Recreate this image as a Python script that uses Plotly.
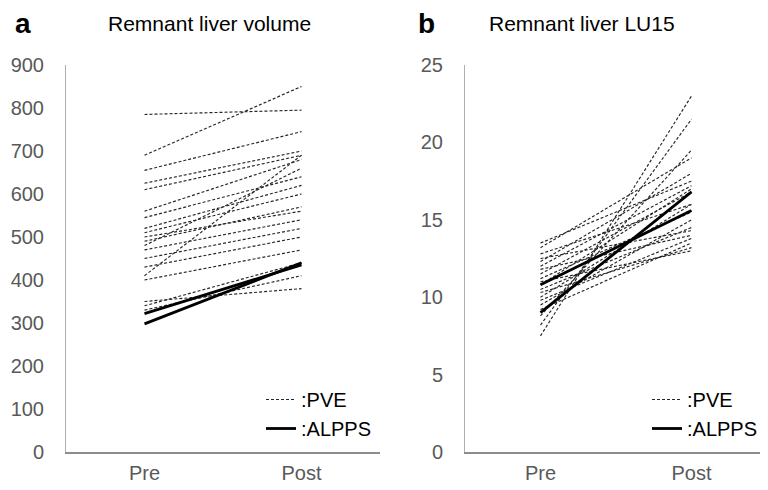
import plotly.graph_objects as go

# ---------------- data ----------------
categories = ["Pre", "Post"]

vol_pve_pre = [785, 690, 655, 625, 610, 560, 545, 520, 510, 500, 490, 470, 450, 430, 410, 400, 350, 340, 330, 480]
vol_pve_post = [795, 850, 745, 700, 690, 680, 640, 620, 600, 560, 570, 540, 520, 500, 690, 470, 380, 440, 410, 660]
vol_alpps_pre = [322, 298]
vol_alpps_post = [435, 440]

lu_pve_pre = [13.5, 13.2, 12.8, 12.3, 12.0, 11.8, 11.5, 11.2, 11.0, 10.8, 10.5, 10.3, 10.0, 9.8, 9.5, 9.2, 8.8, 8.2, 7.5, 12.5]
lu_pve_post = [17.5, 19.0, 16.0, 18.0, 17.2, 14.0, 16.8, 15.5, 13.0, 17.0, 14.5, 13.2, 16.0, 13.8, 15.0, 13.5, 19.5, 21.5, 23.0, 14.3]
lu_alpps_pre = [10.8, 9.0]
lu_alpps_post = [15.6, 16.8]

vol_ticks = [0, 100, 200, 300, 400, 500, 600, 700, 800, 900]
lu_ticks = [0, 5, 10, 15, 20, 25]

titles = ["Remnant liver volume", "Remnant liver LU15"]
panel_letters = ["a", "b"]

# ---------------- figure ----------------
# the page body has an 8px margin: the figure is drawn from (8, 8)
OFF = 8
W, H = 768 - OFF, 490 - OFF
FONT = "Liberation Sans, Arial, sans-serif"
GREY = "#595959"


def fx(px):
    return (px - OFF) / W


def fy(py):
    return 1 - (py - OFF) / H


fig = go.Figure()

pve_line = dict(color="#262626", width=1.15, dash="3px,2px")
alpps_line = dict(color="black", width=2.8)


def add_panel(pre_p, post_p, pre_a, post_a, xa, ya, leg):
    for i, (a, b) in enumerate(zip(pre_p, post_p)):
        fig.add_trace(go.Scatter(x=categories, y=[a, b], mode="lines", line=pve_line,
                                 xaxis=xa, yaxis=ya, name=":PVE", legend=leg,
                                 showlegend=(i == 0), hoverinfo="skip"))
    for i, (a, b) in enumerate(zip(pre_a, post_a)):
        fig.add_trace(go.Scatter(x=categories, y=[a, b], mode="lines", line=alpps_line,
                                 xaxis=xa, yaxis=ya, name=":ALPPS", legend=leg,
                                 showlegend=(i == 0), hoverinfo="skip"))


add_panel(vol_pve_pre, vol_pve_post, vol_alpps_pre, vol_alpps_post, "x", "y", "legend")
add_panel(lu_pve_pre, lu_pve_post, lu_alpps_pre, lu_alpps_post, "x2", "y2", "legend2")

ydom = [fy(452), fy(65)]
xcommon = dict(type="category", categoryorder="array", categoryarray=categories,
               range=[-0.5, 1.5], showgrid=False, zeroline=False, showline=True,
               linecolor="#8c8c8c", linewidth=2, ticks="", ticklabelstandoff=2,
               tickfont=dict(family=FONT, size=20, color=GREY), fixedrange=True,
               automargin=False)
ycommon = dict(showgrid=False, zeroline=False, showline=True, linecolor="#b0b0b0",
               linewidth=1, ticks="", ticklabelstandoff=17,
               tickfont=dict(family=FONT, size=20, color=GREY), fixedrange=True,
               automargin=False)

legcommon = dict(font=dict(family=FONT, size=20, color="black"), bgcolor="rgba(0,0,0,0)",
                 itemwidth=30, tracegroupgap=0, yanchor="top", xanchor="left")

fig.update_layout(
    width=W, height=H, margin=dict(l=0, r=0, t=0, b=0, pad=0, autoexpand=False),
    paper_bgcolor="white", plot_bgcolor="white",
    xaxis=dict(domain=[fx(66), fx(380)], anchor="y", **xcommon),
    yaxis=dict(domain=ydom, anchor="x", range=[0, 900], tickvals=vol_ticks, **ycommon),
    xaxis2=dict(domain=[fx(465), min(1, fx(767))], anchor="y2", **xcommon),
    yaxis2=dict(domain=ydom, anchor="x2", range=[0, 25], tickvals=lu_ticks, **ycommon),
    legend=dict(x=fx(261), y=fy(380), **legcommon),
    legend2=dict(x=fx(647), y=fy(380), **legcommon),
    showlegend=True,
)


def ann(text, x, y, size):
    fig.add_annotation(text=text, x=fx(x), y=fy(y), xref="paper", yref="paper",
                       xanchor="center", yanchor="middle", showarrow=False,
                       font=dict(family=FONT, size=size, color="black"))


ann(titles[0], 209, 24, 21)
ann(titles[1], 582, 24, 21)
ann("<b>" + panel_letters[0] + "</b>", 23, 23, 28)
ann("<b>" + panel_letters[1] + "</b>", 426, 23, 28)

fig.write_html("out.html", config={"displayModeBar": False})
